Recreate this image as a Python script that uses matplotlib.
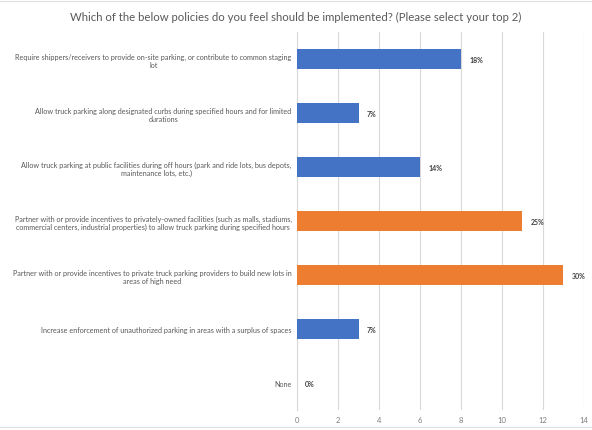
import matplotlib.pyplot as plt
from matplotlib.lines import Line2D

plt.rcParams['font.family'] = ['Lato', 'DejaVu Sans']

# data
policies = [
    "Require shippers/receivers to provide on-site parking, or contribute to common staging\nlot",
    "Allow truck parking along designated curbs during specified hours and for limited\ndurations",
    "Allow truck parking at public facilities during off hours (park and ride lots, bus depots,\nmaintenance lots, etc.)",
    "Partner with or provide incentives to privately-owned facilities (such as malls, stadiums,\ncommercial centers, industrial properties) to allow truck parking during specified hours",
    "Partner with or provide incentives to private truck parking providers to build new lots in\nareas of high need",
    "Increase enforcement of unauthorized parking in areas with a surplus of spaces",
    "None",
]
counts = [8, 3, 6, 11, 13, 3, 0]
pct_labels = ["18%", "7%", "14%", "25%", "30%", "7%", "0%"]
top2 = [False, False, False, True, True, False, False]

blue = "#4472C4"
orange = "#ED7D31"
colors = [orange if t else blue for t in top2]

fig = plt.figure(figsize=(5.92, 4.31), dpi=100)
ax = fig.add_axes([0.502, 0.046, 0.484, 0.877])

ypos = list(range(len(policies)))
ax.barh(ypos, counts, height=0.36, color=colors, zorder=3)
for y, c, lab in zip(ypos, counts, pct_labels):
    ax.text(c + 0.4, y, lab, va='center', ha='left', fontsize=5,
            fontweight='bold', color='#404040')

ax.set_xlim(0, 14)
ax.set_ylim(len(policies) - 0.5, -0.5)
ax.set_xticks(range(0, 15, 2))
ax.set_yticks(ypos)
ax.set_yticklabels(policies, fontsize=5.2, color='#595959')
for t in ax.get_yticklabels():
    t.set_multialignment('center')
ax.tick_params(axis='both', length=0, pad=4)
ax.tick_params(axis='x', labelsize=5.5, labelcolor='#7f7f7f')
ax.xaxis.grid(True, color='#d9d9d9', linewidth=0.8, zorder=0)
for s in ['top', 'right', 'bottom']:
    ax.spines[s].set_visible(False)
ax.spines['left'].set_color('#d9d9d9')
ax.spines['left'].set_linewidth(0.8)

fig.text(0.5, 0.96, "Which of the below policies do you feel should be implemented? (Please select your top 2)",
         ha='center', va='center', fontsize=8.2, color='#595959')

# light frame lines at top and bottom
fig.add_artist(Line2D([0, 1], [0.995, 0.995], color='#e0e0e0', linewidth=0.8, transform=fig.transFigure))
fig.add_artist(Line2D([0, 1], [0.006, 0.006], color='#e0e0e0', linewidth=0.8, transform=fig.transFigure))

fig.savefig("out.png", dpi=100)
